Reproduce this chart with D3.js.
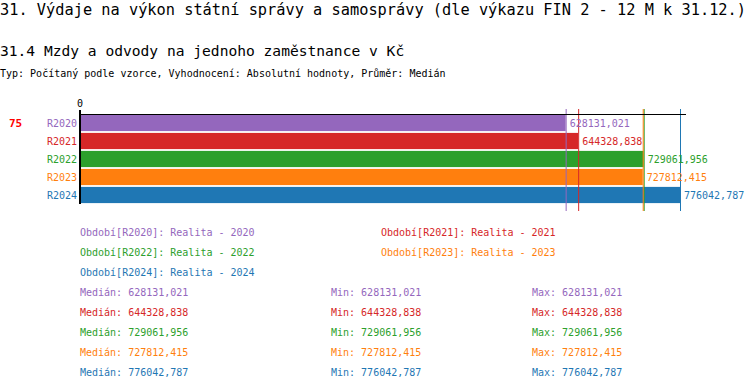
<!DOCTYPE html>
<html>
<head>
<meta charset="utf-8">
<script src="https://cdn.jsdelivr.net/npm/d3@7"></script>
<style>
  body { margin: 0; background: #fff; }
  text { font-family: "DejaVu Sans Mono", monospace; }
</style>
</head>
<body>
<div id="chart"></div>
<script>
// Data
const periods = ["R2020", "R2021", "R2022", "R2023", "R2024"];
const periodNames = ["Realita - 2020", "Realita - 2021", "Realita - 2022", "Realita - 2023", "Realita - 2024"];
const values = [628131.021, 644328.838, 729061.956, 727812.415, 776042.787];
const colors = ["#9467bd", "#d62728", "#2ca02c", "#ff7f0e", "#1f77b4"];
const rankLabel = "75";

const width = 750, height = 390;
const fmt = v => d3.format(".3f")(v).replace(".", ",");

const svg = d3.select("#chart").append("svg")
  .attr("width", width).attr("height", height);

// Titles
svg.append("text").attr("x", 0).attr("y", 15)
  .style("font-size", "15.3px").text("31. Výdaje na výkon státní správy a samosprávy (dle výkazu FIN 2 - 12 M k 31.12.)");
svg.append("text").attr("x", 0).attr("y", 56)
  .style("font-size", "14.6px").text("31.4 Mzdy a odvody na jednoho zaměstnance v Kč");
svg.append("text").attr("x", 0).attr("y", 77)
  .style("font-size", "10px").text("Typ: Počítaný podle vzorce, Vyhodnocení: Absolutní hodnoty, Průměr: Medián");

// Scales
const x = d3.scaleLinear().domain([0, d3.max(values)]).range([80, 680]);
const y = d3.scaleBand().domain(periods).range([114, 204]).paddingInner(0.1).paddingOuter(0.05);

// Bars
svg.selectAll("rect.bar").data(periods).join("rect")
  .attr("x", x(0) + 1)
  .attr("y", d => y(d))
  .attr("width", (d, i) => x(values[i]) - x(0) - 1)
  .attr("height", y.bandwidth())
  .attr("fill", (d, i) => colors[i]);

// Median lines
svg.selectAll("line.med").data(values).join("line")
  .attr("x1", d => x(d) + 0.5).attr("x2", d => x(d) + 0.5)
  .attr("y1", 109).attr("y2", 211)
  .attr("stroke", (d, i) => colors[i]).attr("stroke-width", 1);

// Axes lines
svg.append("line").attr("x1", x(0)).attr("x2", 686).attr("y1", 114.5).attr("y2", 114.5)
  .attr("stroke", "#000").attr("stroke-width", 1);
svg.append("line").attr("x1", x(0)).attr("x2", x(0)).attr("y1", 110).attr("y2", 204)
  .attr("stroke", "#000").attr("stroke-width", 2);
svg.append("text").attr("x", x(0)).attr("y", 107).attr("text-anchor", "middle")
  .style("font-size", "10px").text("0");

// Category labels
svg.selectAll("text.cat").data(periods).join("text")
  .attr("x", 77).attr("y", d => y(d) + y.bandwidth() / 2 + 4)
  .attr("text-anchor", "end").style("font-size", "10px")
  .attr("fill", (d, i) => colors[i]).text(d => d);

svg.append("text").attr("x", 9).attr("y", 127)
  .style("font-size", "11px").style("font-weight", "bold")
  .attr("fill", "#ff0000").text(rankLabel);

// Value labels
svg.selectAll("text.val").data(values).join("text")
  .attr("x", d => x(d) + 4)
  .attr("y", (d, i) => y(periods[i]) + y.bandwidth() / 2 + 4)
  .style("font-size", "10px").attr("fill", (d, i) => colors[i])
  .text(d => fmt(d));

// Legend
periods.forEach((p, i) => {
  svg.append("text")
    .attr("x", i % 2 === 0 ? 80 : 381)
    .attr("y", 236 + Math.floor(i / 2) * 20)
    .style("font-size", "10px").attr("fill", colors[i])
    .text(`Období[${p}]: ${periodNames[i]}`);
});

// Stats
values.forEach((v, i) => {
  const yy = 296 + i * 20;
  [["Medián", 80], ["Min", 331], ["Max", 532]].forEach(([lab, xx]) => {
    svg.append("text").attr("x", xx).attr("y", yy)
      .style("font-size", "10px").attr("fill", colors[i])
      .text(`${lab}: ${fmt(v)}`);
  });
});
</script>
</body>
</html>
